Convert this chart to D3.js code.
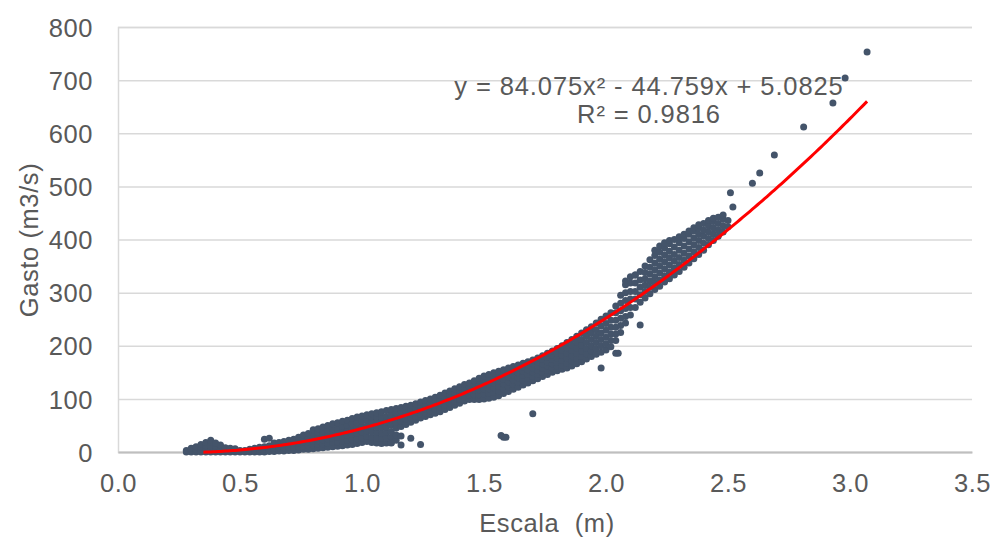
<!DOCTYPE html>
<html>
<head>
<meta charset="utf-8">
<script src="https://cdn.jsdelivr.net/npm/d3@7"></script>
<style>
  html, body { margin: 0; padding: 0; background: #ffffff; }
  svg { display: block; }
  text { font-family: "Liberation Sans", Arial, sans-serif; fill: #595959; }
</style>
</head>
<body>
<svg id="chart" width="995" height="539"></svg>
<script>
// ---------------- DATA ----------------
const xTickValues = [0, 0.5, 1.0, 1.5, 2.0, 2.5, 3.0, 3.5];
const xTickLabels = ["0.0", "0.5", "1.0", "1.5", "2.0", "2.5", "3.0", "3.5"];
const yTickValues = [0, 100, 200, 300, 400, 500, 600, 700, 800];

const xTitle = "Escala  (m)";
const yTitle = "Gasto (m3/s)";
const equationText = "y = 84.075x\u00B2 - 44.759x + 5.0825";
const r2Text = "R\u00B2 = 0.9816";

// trendline coefficients (a, b, c) and its x extent
const trendCoef = [84.075, -44.759, 5.0825];
const trendRange = [0.35, 3.07];

// Dense observations, read column by column: escala value and the gasto values seen there
const escalaCols = [
  0.28, 0.30, 0.32, 0.34, 0.36, 0.38, 0.40, 0.42, 0.44, 0.46, 0.48, 0.50, 0.52, 0.54, 0.56, 0.58,
  0.60, 0.62, 0.64, 0.66, 0.68, 0.70, 0.72, 0.74, 0.76, 0.78, 0.80, 0.82, 0.84, 0.86, 0.88, 0.90,
  0.92, 0.94, 0.96, 0.98, 1.00, 1.02, 1.04, 1.06, 1.08, 1.10, 1.12, 1.14, 1.16, 1.18, 1.20, 1.22,
  1.24, 1.26, 1.28, 1.30, 1.32, 1.34, 1.36, 1.38, 1.40, 1.42, 1.44, 1.46, 1.48, 1.50, 1.52, 1.54,
  1.56, 1.58, 1.60, 1.62, 1.64, 1.66, 1.68, 1.70, 1.72, 1.74, 1.76, 1.78, 1.80, 1.82, 1.84, 1.86,
  1.88, 1.90, 1.92, 1.94, 1.96, 1.98, 2.00, 2.02, 2.04, 2.06, 2.08, 2.10, 2.12, 2.14, 2.16, 2.18,
  2.20, 2.22, 2.24, 2.26, 2.28, 2.30, 2.32, 2.34, 2.36, 2.38, 2.40, 2.42, 2.44, 2.46, 2.48, 2.50
];
const gastoCols = [
  [0,3], [0,4,7], [0,5,10], [0,5,10,14], [0,6,12,18], [0,6,12,18,22], [0,6,12,17], [0,5,10,13],
  [0,4,8], [0,4,7], [0,3,6], [0,3], [0,3], [0,3,5], [0,4,7], [0,5,9],
  [0,5,10,24], [1,6,12,26], [1,7,13,17], [2,8,14,18], [2,8,14,20], [3,9,15,22], [3,9,16,24], [4,10,17,24,28],
  [5,11,18,25,32], [5,12,19,27,35], [6,13,20,28,36,42], [7,14,21,29,37,44], [8,15,23,31,39,47], [9,16,24,32,41,50], [10,18,26,34,43,53], [11,19,28,37,46,55],
  [12,20,29,38,48,58], [13,22,31,40,50,60], [14,23,33,43,53,63], [16,25,35,45,55,66], [18,27,37,47,58,68], [20,29,39,49,60,70], [18,28,38,48,58,66,72], [17,27,37,47,57,66,74],
  [16,26,36,46,56,66,76], [17,27,37,47,57,67,78], [18,28,38,50,60,70,80], [22,32,45,56,66,74,82], [13,30,48,58,68,77,84], [52,61,70,79,86], [26,56,64,72,80,88], [60,67,75,83,91],
  [14,64,71,78,86,94], [67,74,81,89,97], [70,77,85,92,100], [73,80,88,96,103], [76,84,92,100,107], [80,88,96,104,111], [84,92,100,108,115], [88,96,104,112,119],
  [92,100,108,116,123], [96,104,112,120,127], [99,107,115,123,130], [99,108,117,126,134], [99,108,117,126,135,139], [100,109,118,127,136,143], [101,110,119,128,137,146], [103,112,121,130,139,149],
  [106,115,124,133,142,152], [28,110,119,128,137,146,155], [114,123,132,141,150,158], [118,127,136,145,153,161], [122,131,140,149,157,164], [126,135,144,152,160,167], [130,139,147,155,163,170], [72,134,142,150,158,166,173],
  [138,146,154,162,170,177], [142,150,158,166,174,181], [146,154,162,170,178,186], [150,158,166,174,182,190], [153,161,169,177,186,195], [156,164,173,182,191,200], [158,167,176,186,196,206], [162,171,181,191,201,212],
  [166,176,186,196,207,218], [170,180,190,201,212,224], [175,185,195,206,218,230], [180,190,200,212,224,236], [184,195,206,218,230,243], [158,188,200,212,224,237,250], [192,204,216,229,242,256], [198,210,222,235,248,262],
  [186,210,222,235,248,262,275], [225,238,252,266,280,295], [243,255,270,285,300,315,322], [258,272,288,302,318,330], [272,288,302,318,333], [239,282,296,310,324,340], [290,302,314,326,338,350], [298,310,322,335,348,362],
  [306,318,330,343,356,370,380], [312,324,337,350,363,376,388], [320,332,345,358,371,384,394], [326,339,352,365,378,392,398], [333,346,359,372,386,400], [340,353,366,380,394,405], [348,361,374,388,402,410], [356,369,382,396,410,416],
  [364,377,390,403,416,422], [372,385,398,410,422,428], [380,393,406,418,430], [390,402,414,426,436], [398,410,422,434,440], [406,418,430,442], [414,426,438,446], [424,436]
];

// Isolated observations
const escalaSueltos = [1.12, 1.57, 1.59, 2.05, 2.12, 2.51, 2.52, 2.60, 2.63, 2.69, 2.81, 2.93, 2.98, 3.07];
const gastoSueltos  = [17,   31,   28,   186,  333,  488,  461,  506,  525,  559,  612,  657,  704,  753];

// ---------------- CHART ----------------
const svg = d3.select("#chart");
const W = 995, H = 539;
const plot = { left: 118, right: 972, top: 27, bottom: 452 };
const FONT = "25.5px";

const x = d3.scaleLinear().domain([0, 3.5]).range([plot.left, plot.right]);
const y = d3.scaleLinear().domain([0, 800]).range([plot.bottom, plot.top]);

svg.append("rect").attr("width", W).attr("height", H).attr("fill", "#ffffff");

// horizontal gridlines + y labels
const yAxis = d3.axisLeft(y).tickValues(yTickValues).tickSize(-(plot.right - plot.left)).tickFormat(d => d);
const gy = svg.append("g").attr("transform", `translate(${plot.left},0)`).call(yAxis);
gy.select(".domain").attr("stroke", "#d9d9d9").attr("stroke-width", 1.5);
gy.selectAll(".tick line").attr("stroke", "#d9d9d9").attr("stroke-width", 1.5);
gy.selectAll(".tick text")
  .attr("x", -25).attr("dy", "0.36em")
  .style("font-size", FONT).style("letter-spacing", "0.6px").style("fill", "#595959")
  .attr("font-family", "Liberation Sans, Arial, sans-serif");

// x axis
const xAxis = d3.axisBottom(x).tickValues(xTickValues).tickSize(0)
  .tickFormat((d, i) => xTickLabels[i]);
const gx = svg.append("g").attr("transform", `translate(0,${plot.bottom})`).call(xAxis);
gx.select(".domain").attr("stroke", "#bfbfbf").attr("stroke-width", 1.8);
gx.selectAll(".tick text")
  .attr("y", 22).attr("dy", "0.71em")
  .style("font-size", FONT).style("letter-spacing", "0.6px").style("fill", "#595959")
  .attr("font-family", "Liberation Sans, Arial, sans-serif");

// points
const pts = [];
escalaCols.forEach((ex, i) => gastoCols[i].forEach(g => pts.push([ex, g])));
escalaSueltos.forEach((ex, i) => pts.push([ex, gastoSueltos[i]]));

svg.append("g").selectAll("circle").data(pts).join("circle")
  .attr("cx", d => x(d[0]))
  .attr("cy", d => y(d[1]))
  .attr("r", 3.5)
  .attr("fill", "#44546a");

// trendline
const [a, b, c] = trendCoef;
const trendPts = d3.range(trendRange[0], trendRange[1] + 1e-9, 0.01).map(v => [v, a * v * v + b * v + c]);
svg.append("path")
  .datum(trendPts)
  .attr("fill", "none")
  .attr("stroke", "#ff0000")
  .attr("stroke-width", 3)
  .attr("d", d3.line().x(d => x(d[0])).y(d => y(d[1])));

// equation label
svg.append("text").attr("x", 649).attr("y", 95).attr("text-anchor", "middle")
  .style("font-size", FONT).style("letter-spacing", "0.9px").text(equationText);
svg.append("text").attr("x", 649).attr("y", 123).attr("text-anchor", "middle")
  .style("font-size", FONT).style("letter-spacing", "0.9px").text(r2Text);

// axis titles
svg.append("text").attr("x", 547).attr("y", 532).attr("text-anchor", "middle")
  .style("font-size", FONT).style("white-space", "pre").style("letter-spacing", "0.6px").text(xTitle);
svg.append("text")
  .attr("transform", `translate(38,240) rotate(-90)`)
  .attr("text-anchor", "middle")
  .style("font-size", FONT).style("letter-spacing", "0.6px").text(yTitle);
</script>
</body>
</html>
